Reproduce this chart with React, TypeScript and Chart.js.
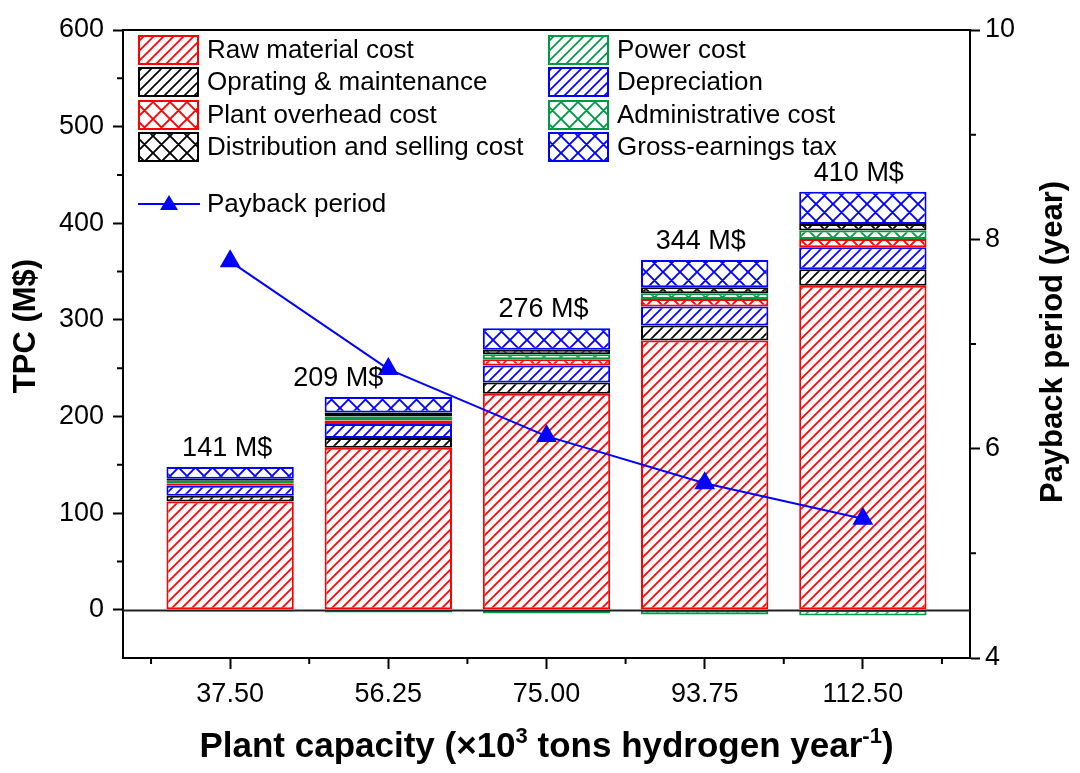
import React, { useEffect, useRef } from 'react';
import { Chart, registerables } from 'chart.js';
Chart.register(...registerables);

// ---------- data ----------
const capacity = [37.5, 56.25, 75.0, 93.75, 112.5];
const rawMaterial = [112.0, 167.6, 223.4, 278.6, 335.2];
const powerCost = [-2, -3, -4, -5, -6];
const operating = [5.9, 10.0, 11.8, 15.5, 17.2];
const depreciation = [10.4, 14.5, 17.6, 19.7, 22.8];
const overhead = [2.0, 3.8, 6.5, 7.9, 8.6];
const administrative = [3.1, 4.1, 5.2, 5.9, 8.6];
const distribution = [2.1, 4.1, 4.5, 6.2, 6.9];
const grossTax = [12.1, 16.0, 22.4, 28.2, 33.4];
const payback = [7.79, 6.76, 6.12, 5.67, 5.33];
const totalLabels = ['141 M$', '209 M$', '276 M$', '344 M$', '410 M$'];

const yTicks = [0, 100, 200, 300, 400, 500, 600];
const yMinorTicks = [50, 150, 250, 350, 450, 550];
const y1Ticks = [4, 6, 8, 10];
const y1MinorTicks = [5, 7, 9];
const xMinorTicks = [28.125, 46.875, 65.625, 84.375, 103.125, 121.875];

// ---------- style ----------
const FONT = '"Liberation Sans", Arial, Helvetica, sans-serif';
const RED = '#ff0000';
const BLACK = '#000000';
const GREEN = '#009a44';
const BLUE = '#0000ff';
const labelDx = [-3, -50, -3, -4, -4];

type Kind = 'diag' | 'cross';

function makePattern(ctx: CanvasRenderingContext2D, color: string, kind: Kind) {
  const s = kind === 'diag' ? 10 : 17;
  const c = document.createElement('canvas');
  c.width = s;
  c.height = s;
  const g = c.getContext('2d') as CanvasRenderingContext2D;
  g.fillStyle = '#ffffff';
  g.fillRect(0, 0, s, s);
  g.strokeStyle = color;
  g.lineWidth = kind === 'diag' ? 1.7 : 1.9;
  g.lineCap = 'square';
  g.beginPath();
  g.moveTo(-2, s + 2);
  g.lineTo(s + 2, -2);
  g.moveTo(-2, 2);
  g.lineTo(2, -2);
  g.moveTo(s - 2, s + 2);
  g.lineTo(s + 2, s - 2);
  if (kind === 'cross') {
    g.moveTo(-2, -2);
    g.lineTo(s + 2, s + 2);
    g.moveTo(s - 2, -2);
    g.lineTo(s + 2, 2);
    g.moveTo(-2, s - 2);
    g.lineTo(2, s + 2);
  }
  g.stroke();
  return ctx.createPattern(c, 'repeat') as CanvasPattern;
}

export default function App() {
  const ref = useRef<HTMLCanvasElement | null>(null);

  useEffect(() => {
    const canvas = ref.current;
    if (!canvas) return;
    const ctx = canvas.getContext('2d') as CanvasRenderingContext2D;

    const series = [
      { label: 'Raw material cost', data: rawMaterial, color: RED, kind: 'diag' as Kind },
      { label: 'Power cost', data: powerCost, color: GREEN, kind: 'diag' as Kind },
      { label: 'Oprating & maintenance', data: operating, color: BLACK, kind: 'diag' as Kind },
      { label: 'Depreciation', data: depreciation, color: BLUE, kind: 'diag' as Kind },
      { label: 'Plant overhead cost', data: overhead, color: RED, kind: 'cross' as Kind },
      { label: 'Administrative cost', data: administrative, color: GREEN, kind: 'cross' as Kind },
      { label: 'Distribution and selling cost', data: distribution, color: BLACK, kind: 'cross' as Kind },
      { label: 'Gross-earnings tax', data: grossTax, color: BLUE, kind: 'cross' as Kind },
    ].map((s) => ({ ...s, pattern: makePattern(ctx, s.color, s.kind) }));

    const legendCol1 = [0, 2, 4, 6];
    const legendCol2 = [1, 3, 5, 7];

    const barDatasets = series.map((s) => ({
      type: 'bar' as const,
      label: s.label,
      data: capacity.map((x, i) => ({ x, y: s.data[i] })),
      backgroundColor: s.pattern,
      borderColor: s.color,
      borderWidth: 2,
      borderSkipped: false,
      yAxisID: 'y',
      stack: 'cost',
      categoryPercentage: 1,
      barPercentage: 0.805,
      order: 2,
    }));

    const lineDataset = {
      type: 'line' as const,
      label: 'Payback period',
      data: capacity.map((x, i) => ({ x, y: payback[i] })),
      borderColor: BLUE,
      backgroundColor: BLUE,
      borderWidth: 2,
      pointStyle: 'triangle',
      pointRadius: 10,
      pointBackgroundColor: BLUE,
      pointBorderColor: BLUE,
      yAxisID: 'y1',
      order: 1,
    };

    const datasets = [...(barDatasets as any[]), lineDataset as any];
    const taxIndex = series.length - 1;

    const deco = {
      id: 'deco',
      afterDatasetsDraw(chart: any) {
        const c = chart.ctx as CanvasRenderingContext2D;
        const { left, right, top, bottom } = chart.chartArea;
        const ys = chart.scales.y;
        const y1 = chart.scales.y1;
        const xs = chart.scales.x;
        c.save();
        // zero line
        c.strokeStyle = '#222';
        c.lineWidth = 2;
        c.beginPath();
        const y0 = Math.round(ys.getPixelForValue(0)) + 0.5;
        c.moveTo(left, y0);
        c.lineTo(right, y0);
        c.stroke();
        // top frame
        c.strokeStyle = '#000';
        c.beginPath();
        c.moveTo(left - 1, top);
        c.lineTo(right + 1, top);
        c.stroke();
        // minor ticks
        c.lineWidth = 2;
        c.beginPath();
        yMinorTicks.forEach((v) => {
          const p = ys.getPixelForValue(v);
          c.moveTo(left - 6, p);
          c.lineTo(left, p);
        });
        y1MinorTicks.forEach((v) => {
          const p = y1.getPixelForValue(v);
          c.moveTo(right, p);
          c.lineTo(right + 6, p);
        });
        xMinorTicks.forEach((v) => {
          const p = xs.getPixelForValue(v);
          c.moveTo(p, bottom);
          c.lineTo(p, bottom + 6);
        });
        c.stroke();

        // value labels above bars
        const topMeta = chart.getDatasetMeta(taxIndex);
        c.fillStyle = '#000';
        c.font = `27px ${FONT}`;
        c.textAlign = 'center';
        c.textBaseline = 'alphabetic';
        topMeta.data.forEach((el: any, i: number) => {
          c.fillText(totalLabels[i], el.x + labelDx[i], el.y - 11);
        });

        // legend
        const drawItem = (idx: number, bx: number, cy: number) => {
          const s = series[idx];
          c.fillStyle = s.pattern;
          c.fillRect(bx, cy - 14, 59, 28);
          c.strokeStyle = s.color;
          c.lineWidth = 2;
          c.strokeRect(bx, cy - 14, 59, 28);
          c.fillStyle = '#000';
          c.font = `26px ${FONT}`;
          c.textAlign = 'left';
          c.textBaseline = 'middle';
          c.fillText(s.label, bx + 68, cy + 1);
        };
        const rowY = [50, 82, 115, 147];
        legendCol1.forEach((idx, r) => drawItem(idx, 139, rowY[r]));
        legendCol2.forEach((idx, r) => drawItem(idx, 549, rowY[r]));
        // payback legend
        const py = 204;
        c.strokeStyle = BLUE;
        c.lineWidth = 2;
        c.beginPath();
        c.moveTo(138, py);
        c.lineTo(200, py);
        c.stroke();
        c.fillStyle = BLUE;
        c.beginPath();
        c.moveTo(169, py - 9);
        c.lineTo(178, py + 6);
        c.lineTo(160, py + 6);
        c.closePath();
        c.fill();
        c.fillStyle = '#000';
        c.font = `26px ${FONT}`;
        c.textAlign = 'left';
        c.textBaseline = 'middle';
        c.fillText('Payback period', 207, py + 1);

        // axis titles
        c.font = `bold 31px ${FONT}`;
        c.textAlign = 'center';
        c.textBaseline = 'middle';
        c.save();
        c.translate(26, 326);
        c.rotate(-Math.PI / 2);
        c.fillText('TPC (M$)', 0, 0);
        c.restore();
        c.save();
        c.translate(1053, 342);
        c.rotate(-Math.PI / 2);
        c.fillText('Payback period (year)', 0, 0);
        c.restore();

        // x title with superscripts
        const parts = [
          { t: 'Plant capacity (\u00d710', sup: false },
          { t: '3', sup: true },
          { t: ' tons hydrogen year', sup: false },
          { t: '-1', sup: true },
          { t: ')', sup: false },
        ];
        const fs = 35;
        const fsSup = 22;
        let total = 0;
        parts.forEach((p) => {
          c.font = `bold ${p.sup ? fsSup : fs}px ${FONT}`;
          total += c.measureText(p.t).width;
        });
        let x = (left + right) / 2 - total / 2;
        const base = 757;
        c.textAlign = 'left';
        c.textBaseline = 'alphabetic';
        parts.forEach((p) => {
          c.font = `bold ${p.sup ? fsSup : fs}px ${FONT}`;
          c.fillText(p.t, x, p.sup ? base - 14 : base);
          x += c.measureText(p.t).width;
        });
        c.restore();
      },
    };

    const tickFont = { family: FONT, size: 27 };
    const gridCfg = {
      display: true,
      drawOnChartArea: false,
      drawTicks: true,
      tickLength: 10,
      tickColor: '#000',
      tickWidth: 2,
    };

    const chart = new Chart(canvas, {
      type: 'bar',
      data: { datasets },
      options: {
        animation: false,
        responsive: false,
        maintainAspectRatio: false,
        layout: { padding: { top: 30, left: 0, right: 0, bottom: 0 } },
        plugins: { legend: { display: false }, tooltip: { enabled: false }, title: { display: false } },
        scales: {
          x: {
            type: 'linear',
            min: 24.8,
            max: 125.2,
            offset: false,
            stacked: true,
            grid: { ...gridCfg, offset: false, tickLength: 11 },
            border: { display: true, color: '#000', width: 2 },
            ticks: {
              font: tickFont,
              color: '#000',
              padding: 9,
              maxRotation: 0,
              autoSkip: false,
              callback: (v: any) => Number(v).toFixed(2),
            },
            afterBuildTicks: (s: any) => {
              s.ticks = capacity.map((v) => ({ value: v }));
            },
            afterFit: (s: any) => {
              s.height = 115;
            },
          },
          y: {
            type: 'linear',
            position: 'left',
            min: -50,
            max: 600,
            stacked: true,
            grid: gridCfg,
            border: { display: true, color: '#000', width: 2 },
            ticks: { font: tickFont, color: '#000', padding: 9 },
            afterBuildTicks: (s: any) => {
              s.ticks = yTicks.map((v) => ({ value: v }));
            },
            afterFit: (s: any) => {
              s.width = 123;
            },
          },
          y1: {
            type: 'linear',
            position: 'right',
            min: 4,
            max: 10,
            grid: gridCfg,
            border: { display: true, color: '#000', width: 2 },
            ticks: { font: tickFont, color: '#000', padding: 5 },
            afterBuildTicks: (s: any) => {
              s.ticks = y1Ticks.map((v) => ({ value: v }));
            },
            afterFit: (s: any) => {
              s.width = 110;
            },
          },
        },
      } as any,
      plugins: [deco],
    });

    return () => chart.destroy();
  }, []);

  return (
    <div style={{ position: 'absolute', left: 0, top: 0, width: 1080, height: 773, background: '#fff' }}>
      <canvas ref={ref} width={1080} height={773} style={{ display: 'block' }} />
    </div>
  );
}
